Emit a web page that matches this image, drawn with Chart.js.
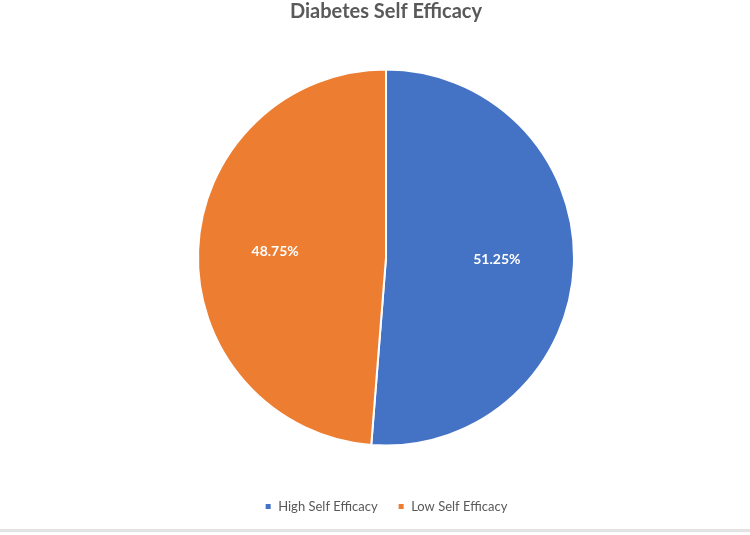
<!DOCTYPE html>
<html lang="en">
<head>
<meta charset="UTF-8">
<title>Diabetes Self Efficacy</title>
<script src="https://cdn.jsdelivr.net/npm/chart.js"></script>
<style>
  body { margin: 0; background: #fff; }
  #wrap { width: 750px; height: 529px; position: relative; }
  #rule { width: 750px; height: 3px; background: #e3e3e3; }
</style>
</head>
<body>
<div id="wrap"><canvas id="myChart"></canvas></div>
<div id="rule"></div>
<script>
const labels = ['High Self Efficacy', 'Low Self Efficacy'];
const values = [51.25, 48.75];
const colors = ['#4472c4', '#ed7d31'];

// percent text inside each slice
const sliceLabels = {
  id: 'sliceLabels',
  afterDatasetsDraw(chart) {
    const ctx = chart.ctx;
    const meta = chart.getDatasetMeta(0);
    ctx.save();
    ctx.fillStyle = '#ffffff';
    ctx.font = 'bold 14px Lato';
    ctx.textAlign = 'center';
    ctx.textBaseline = 'middle';
    meta.data.forEach((arc, i) => {
      const p = arc.getProps(['x', 'y', 'startAngle', 'endAngle', 'outerRadius'], true);
      const mid = (p.startAngle + p.endAngle) / 2;
      const r = p.outerRadius * 0.59;
      ctx.fillText(values[i].toFixed(2) + '%', p.x + Math.cos(mid) * r, p.y + Math.sin(mid) * r - 2);
    });
    ctx.restore();
  }
};

const config = {
  type: 'pie',
  data: {
    labels: labels,
    datasets: [{
      data: values,
      backgroundColor: colors,
      borderColor: '#ffffff',
      borderWidth: 2,
      radius: 188
    }]
  },
  options: {
    responsive: true,
    maintainAspectRatio: false,
    animation: false,
    layout: { padding: { top: 0, bottom: 6, left: 22 } },
    plugins: {
      title: {
        display: true,
        text: 'Diabetes Self Efficacy',
        color: '#595959',
        font: { family: 'Lato', size: 20, weight: 'bold' },
        padding: { top: 0, bottom: 11 }
      },
      legend: {
        position: 'bottom',
        labels: {
          boxWidth: 7,
          boxHeight: 7,
          padding: 20,
          color: '#595959',
          font: { family: 'Lato', size: 13 }
        }
      },
      tooltip: { enabled: false }
    }
  },
  plugins: [sliceLabels]
};

new Chart(document.getElementById('myChart'), config);
</script>
</body>
</html>
